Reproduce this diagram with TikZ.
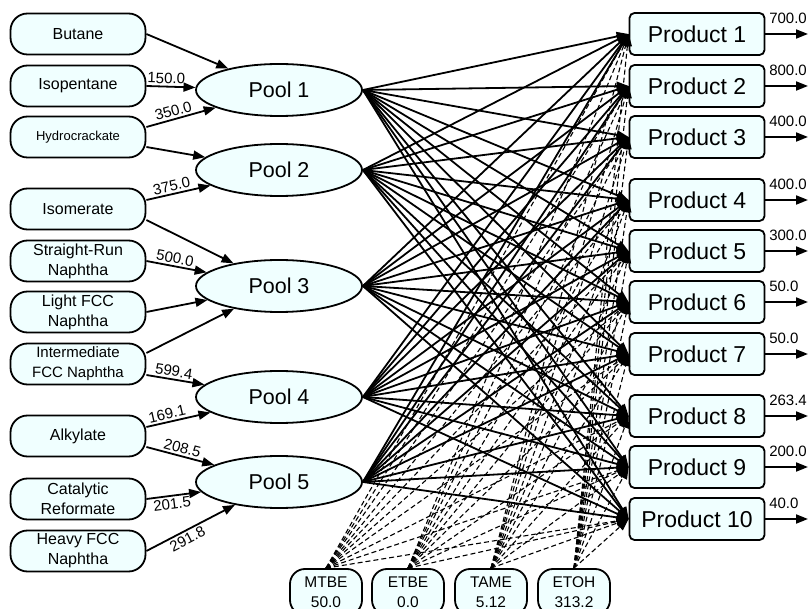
\documentclass[tikz,border=0pt]{standalone}
\usepackage{fontspec}
\setmainfont{Liberation Sans}
\usetikzlibrary{arrows.meta,shapes,positioning,calc}
\definecolor{nodefill}{RGB}{240,255,255}

\tikzset{
  src/.style={draw,line width=1.8pt,fill=nodefill,rounded corners=17pt,minimum width=135pt,minimum height=41pt,inner sep=0pt,align=center,font=\fontsize{16}{20}\selectfont},
  pool/.style={draw,ellipse,line width=1.8pt,fill=nodefill,minimum width=166pt,minimum height=52pt,inner sep=0pt,font=\fontsize{21.5}{24}\selectfont},
  prod/.style={draw,line width=1.8pt,fill=nodefill,rounded corners=5pt,minimum width=135pt,minimum height=42pt,inner sep=0pt,font=\fontsize{23}{24}\selectfont},
  addv/.style={draw,line width=1.8pt,fill=nodefill,rounded corners=15pt,minimum width=72pt,minimum height=46pt,inner sep=0pt,align=center,font=\fontsize{15.5}{20}\selectfont},
  flow/.style={line width=1.8pt,-{Triangle[length=12pt,width=9pt]}},
  blend/.style={line width=1.1pt,dash pattern=on 5pt off 3pt,-{Triangle[length=12pt,width=9pt]}},
  lbl/.style={font=\fontsize{15}{15}\selectfont,inner sep=2pt,sloped}
}

\begin{document}
\begin{tikzpicture}[x=1pt,y=-1pt]
  \useasboundingbox (0,0) rectangle (809,609);

  % sources
  \node[src] (butane)  at (78,34)  {Butane};
  \node[src] (isopent) at (78,86)  {Isopentane};
  \node[src,font=\fontsize{13}{16}\selectfont] (hydro) at (78,137) {Hydrocrackate};
  \node[src] (isomer)  at (78,209) {Isomerate};
  \node[src] (srn)     at (78,261) {Straight-Run\\Naphtha};
  \node[src] (lfcc)    at (78,312) {Light FCC\\Naphtha};
  \node[src,font=\fontsize{15}{20}\selectfont] (ifcc) at (78,364) {Intermediate\\FCC Naphtha};
  \node[src] (alky)    at (78,436) {Alkylate};
  \node[src] (cref)    at (78,499) {Catalytic\\Reformate};
  \node[src] (hfcc)    at (78,551) {Heavy FCC\\Naphtha};

  % pools
  \foreach \i/\y in {1/90,2/170,3/286,4/397,5/482}
    \node[pool] (pool\i) at (279,\y) {Pool \i};

  % products
  \foreach \j/\y/\v in {1/34/700.0,2/86/800.0,3/137/400.0,4/200/400.0,5/251/300.0,
                        6/302/50.0,7/354/50.0,8/416/263.4,9/467/200.0,10/519/40.0} {
    \node[prod] (prod\j) at (697,\y) {Product \j};
    \coordinate (out\j) at (808,\y);
    \draw[flow] (prod\j.east) -- (out\j)
      node[pos=0,anchor=south west,xshift=3pt,yshift=9pt,font=\fontsize{15}{15}\selectfont,inner sep=0pt] {\v};
  }

  % additives
  \node[addv] (mtbe) at (326,592) {MTBE\\50.0};
  \node[addv] (etbe) at (408,592) {ETBE\\0.0};
  \node[addv] (tame) at (491,592) {TAME\\5.12};
  \node[addv] (etoh) at (574,592) {ETOH\\313.2};

  % blending
  \foreach \a in {mtbe,etbe,tame,etoh}
    \foreach \j in {1,...,10}
      \draw[blend] (\a.north) -- (prod\j.west);
  \foreach \i in {1,...,5}
    \foreach \j in {1,...,10}
      \draw[flow] (pool\i.east) -- (prod\j.west);

  % supply
  \draw[flow] (butane.east) -- (pool1);
  \draw[flow] (isopent.east) -- (pool1) node[lbl,pos=0.4,above] {150.0};
  \draw[flow] ([yshift=10pt]hydro.east) -- (pool1) node[lbl,pos=0.42,above] {350.0};
  \draw[flow] ([yshift=-10pt]hydro.east) -- (pool2);
  \draw[flow] ([yshift=9pt]isomer.east) -- (pool2) node[lbl,pos=0.42,above] {375.0};
  \draw[flow] ([yshift=-11pt]isomer.east) -- (pool3);
  \draw[flow] (srn.east) -- (pool3) node[lbl,pos=0.45,above] {500.0};
  \draw[flow] (lfcc.east) -- (pool3);
  \draw[flow] ([yshift=11pt]ifcc.east) -- (pool3);
  \draw[flow] ([yshift=-11pt]ifcc.east) -- (pool4) node[lbl,pos=0.45,above] {599.4};
  \draw[flow] ([yshift=9pt]alky.east) -- (pool4) node[lbl,pos=0.35,above] {169.1};
  \draw[flow] ([yshift=-11pt]alky.east) -- (pool5) node[lbl,pos=0.5,above] {208.5};
  \draw[flow] (cref.east) -- (pool5) node[lbl,pos=0.45,below] {201.5};
  \draw[flow] (hfcc.east) -- (pool5) node[lbl,pos=0.42,below] {291.8};
\end{tikzpicture}
\end{document}
